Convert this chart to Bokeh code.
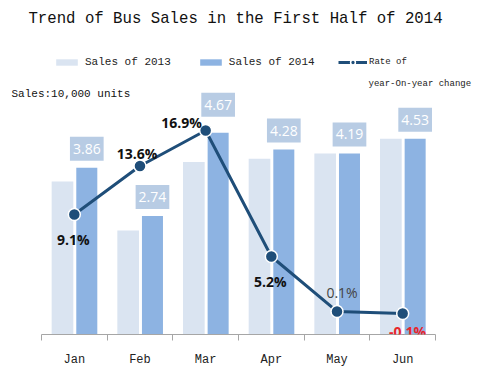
from bokeh.plotting import figure
from bokeh.models import (ColumnDataSource, Range1d, FixedTicker, Label, LabelSet,
                          Legend, LegendItem)
from bokeh.core.properties import value
from bokeh.transform import dodge
from bokeh.embed import file_html
from bokeh.resources import INLINE

# ---- data ----
months = ["Jan", "Feb", "Mar", "Apr", "May", "Jun"]
sales_2013 = [3.54, 2.41, 3.99, 4.07, 4.19, 4.53]
sales_2014 = [3.86, 2.74, 4.67, 4.28, 4.19, 4.53]
yoy_rate = [9.1, 13.6, 16.9, 5.2, 0.1, -0.1]
rate_labels = ["9.1%", "13.6%", "16.9%", "5.2%", "0.1%", "-0.1%"]

# ---- styling helpers (not data) ----
rate_dx = [-1, -3, -24, -1, 5, 5]
rate_dy = [-25, 13, 8, -25, 19, -18]
rate_color = ["#111111", "#111111", "#111111", "#111111", "#444444", "#e8262b"]
rate_style = ["bold", "bold", "bold", "bold", "normal", "bold"]
box_lift = [-19, -19, -28, -19, -19, -19]

x_centers = [i + 0.5 for i in range(len(months))]

bars = ColumnDataSource(dict(x=x_centers, s13=sales_2013, s14=sales_2014,
                             lbl=["%.2f" % v for v in sales_2014], lift=box_lift))
rates = ColumnDataSource(dict(x=x_centers, r=yoy_rate, lbl=rate_labels, dx=rate_dx,
                              dy=rate_dy, col=rate_color, sty=rate_style))

MONO = "Liberation Mono"
SANS = "Open Sans"

p = figure(frame_width=480, frame_height=334, output_backend="svg",
           toolbar_location=None, x_range=Range1d(-0.624, 6.685),
           y_range=Range1d(0, 7.731), y_axis_location=None,
           min_border_left=0, min_border_right=0, min_border_top=0,
           min_border_bottom=0)
p.extra_y_ranges = {"rate": Range1d(-2.043, 28.97)}
p.outline_line_color = None
p.xgrid.visible = False
p.ygrid.visible = False
p.background_fill_color = "white"

r13 = p.vbar(x=dodge("x", -0.18), top="s13", width=0.33, source=bars,
             fill_color="#dae4f1", line_color=None)
r14 = p.vbar(x=dodge("x", 0.19), top="s14", width=0.32, source=bars,
             fill_color="#8db3e2", line_color=None)

p.text(x=dodge("x", 0.19), y="s14", text="lbl", source=bars,
       y_offset="lift", text_align="center", text_baseline="middle",
       text_color="white", text_font=value(SANS), text_font_size="14px",
       background_fill_color="#b8cce4",
       padding=dict(left=3, right=3, top=7, bottom=7))

rl = p.line(x="x", y="r", source=rates, y_range_name="rate",
            line_color="#1f4e79", line_width=3)
rs = p.scatter(x="x", y="r", source=rates, y_range_name="rate", size=12,
               fill_color="#1f4e79", line_color="white", line_width=1.5)

p.add_layout(LabelSet(x="x", y="r", text="lbl", source=rates, y_range_name="rate",
                      x_offset="dx", y_offset="dy", text_align="center",
                      text_baseline="middle", text_color="col",
                      text_font_style="sty", text_font=value(SANS),
                      text_font_size="14px"))

# x axis
ax = p.xaxis[0]
ax.ticker = FixedTicker(ticks=x_centers, minor_ticks=list(range(len(months) + 1)))
ax.major_label_overrides = {x: m for x, m in zip(x_centers, months)}
ax.bounds = (0, len(months))
ax.axis_line_color = "#a6a6a6"
ax.major_tick_line_color = None
ax.major_tick_out = 0
ax.minor_tick_line_color = "#a6a6a6"
ax.minor_tick_out = 6
ax.minor_tick_in = 0
ax.major_label_standoff = 12
ax.major_label_text_font = MONO
ax.major_label_text_font_size = "12px"
ax.major_label_text_color = "#222222"

# legends
legA = Legend(items=[LegendItem(label="Sales of 2013", renderers=[r13]),
                     LegendItem(label="Sales of 2014", renderers=[r14])],
              orientation="horizontal", location=(53, 265), glyph_width=27,
              glyph_height=8, label_height=14, label_standoff=5, spacing=26,
              padding=0, margin=0, border_line_color=None,
              background_fill_alpha=0, label_text_font=MONO,
              label_text_font_size="11px", label_text_color="#222222")
legB = Legend(items=[LegendItem(label="Rate of", renderers=[rl, rs])],
              location=(338, 266), glyph_width=29, glyph_height=12,
              label_height=12, label_standoff=2, padding=0, margin=0,
              border_line_color=None, background_fill_alpha=0,
              label_text_font=MONO, label_text_font_size="9px",
              label_text_color="#222222")
p.add_layout(legA, "center")
p.add_layout(legB, "center")

p.add_layout(Label(x=235, y=316, x_units="screen", y_units="screen",
                   text="Trend of Bus Sales in the First Half of 2014",
                   text_align="center", text_baseline="middle", text_font=MONO,
                   text_font_size="15.7px", text_color="#111111"))
p.add_layout(Label(x=368, y=251, x_units="screen", y_units="screen",
                   text="year-On-year change", text_align="left",
                   text_baseline="middle", text_font=MONO, text_font_size="9px",
                   text_color="#222222"))
p.add_layout(Label(x=11, y=241, x_units="screen", y_units="screen",
                   text="Sales:10,000 units", text_align="left",
                   text_baseline="middle", text_font=MONO, text_font_size="11px",
                   text_color="#111111"))

open("out.html", "w").write(file_html(p, INLINE))
